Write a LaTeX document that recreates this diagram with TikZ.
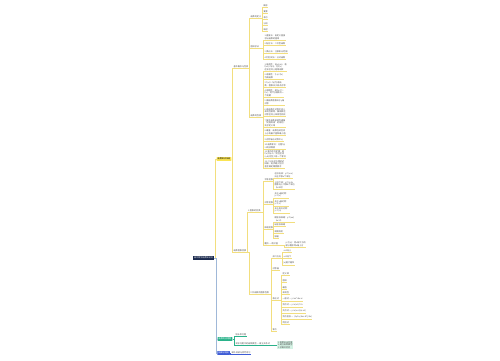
\documentclass[tikz,border=0pt]{standalone}
\usepackage{fontspec}
\newfontfamily\cjk{Noto Sans CJK SC}
\usetikzlibrary{positioning}
\definecolor{rootc}{RGB}{27,42,78}
\definecolor{ylinec}{RGB}{242,222,126}
\definecolor{yboxc}{RGB}{250,228,84}
\definecolor{glinec}{RGB}{42,178,138}
\definecolor{gboxc}{RGB}{212,242,228}
\definecolor{blinec}{RGB}{62,92,214}
\definecolor{trunkc}{RGB}{160,184,216}
\definecolor{txtc}{RGB}{80,80,80}

\begin{document}
\begin{tikzpicture}[x=1pt,y=-1pt,
  mm/.style={font=\cjk\fontsize{2.1}{2.6}\selectfont,inner sep=0.4pt,text=txtc,align=left},
  leaf/.style={mm,anchor=west},
  rootbox/.style={mm,fill=rootc,text=white,inner sep=1pt,rounded corners=0.4pt},
  ybox/.style={mm,fill=yboxc,text=black,inner sep=1pt,rounded corners=0.4pt},
  gbox/.style={mm,fill=glinec,text=white,inner sep=1pt,rounded corners=0.4pt},
  bbox/.style={mm,fill=blinec,text=white,inner sep=1pt,rounded corners=0.4pt},
  note/.style={mm,anchor=west,fill=gboxc,inner sep=0.8pt},
  ylk/.style={draw=ylinec,line width=0.3pt},
  glk/.style={draw=glinec,line width=0.3pt},
  blk/.style={draw=blinec,line width=0.3pt},
  tlk/.style={draw=trunkc,line width=0.6pt}]
  \useasboundingbox (0,0) rectangle (500,360);

  \node[rootbox] (root) at (203.5,258) {高中数学函数知识点};
  \node[ybox]    (fk)   at (224,159)   {函数知识归纳};
  \node[gbox]    (yy)   at (225,339)   {函数的应用题};
  \node[bbox]    (ck)   at (223.5,353) {拓展与链接};

  \node[leaf] (gn) at (233,67)  {基本概念与性质};
  \node[leaf] (tx) at (233,251) {函数图像变换};

  \node[leaf] (dy) at (250,17)  {函数的定义};
  \node[leaf] (zy) at (250,47)  {值域求法};
  \node[leaf] (xz) at (250,116) {函数的性质};

  \node[leaf] (dy1) at (263,6)  {概念};
  \node[leaf] (dy2) at (263,12) {要素};
  \node[leaf] (dy3) at (263,18) {表示};
  \node[leaf] (dy4) at (263,24) {分段};
  \node[leaf] (dy5) at (263,30) {映射};

  \node[leaf] (zy1) at (264,37) {1.直接法：由定义直接\\求出函数的值域};
  \node[leaf] (zy2) at (264,44) {2.配方法：二次型函数};
  \node[leaf] (zy3) at (264,52) {3.换元法：注意新元范围};
  \node[leaf] (zy4) at (264,58) {4.判别式法：分式函数};

  \node[leaf] (xz1)  at (264,67)  {1.单调性：设x1<x2，若\\f(x1)<f(x2)，则f(x)\\在该区间上是增函数};
  \node[leaf] (xz2)  at (264,76)  {2.奇偶性：f(-x)=f(x)\\为偶函数};
  \node[leaf] (xz3)  at (264,84)  {3.f(-x)=-f(x)为奇函\\数，图像关于原点对称};
  \node[leaf] (xz4)  at (264,93)  {4.周期性：若f(x+T)=\\f(x)，则T为函数的一\\个周期};
  \node[leaf] (xz5)  at (264,102) {5.偶函数图像关于y轴\\对称};
  \node[leaf] (xz6)  at (264,112) {6.奇函数在对称区间上\\单调性相同，偶函数在\\对称区间上单调性相反};
  \node[leaf] (xz7)  at (264,123) {7.复合函数单调性遵循\\“同增异减”的原则，\\先求定义域};
  \node[leaf] (xz8)  at (264,132) {8.最值：函数在闭区间\\上必有最大值和最小值};
  \node[leaf] (xz9)  at (264,140) {9.对称轴与对称中心};
  \node[leaf] (xz10) at (264,146) {10.函数零点：方程f(x)\\=0的实数根};
  \node[leaf] (xz11) at (264,154) {11.零点存在定理：若\\f(a)f(b)<0，则在区间\\(a,b)内至少有一个零点};
  \node[leaf] (xz12) at (264,164) {12.二分法求方程的近\\似解，逐步缩小区间\\直至满足精度要求};

  \node[leaf] (bh) at (247.5,211) {1.图像的变换};
  \node[leaf] (ex) at (249.5,293) {二次函数的图像性质};

  \node[leaf] (py) at (264,180) {平移变换};
  \node[leaf] (dc) at (264,203) {对称变换};
  \node[leaf] (sf) at (264,228) {伸缩变换};
  \node[leaf] (fz) at (264,244) {翻折 — 绝对值};

  \node[leaf] (py1) at (274,175) {左加右减：y=f(x+a)\\向左平移a个单位};
  \node[leaf] (py2) at (274,185) {上加下减：y=f(x)+b\\图像向上平移b个单位\\（b>0时）};
  \node[leaf] (dc1) at (274,195) {关于x轴对称：\\y=-f(x)};
  \node[leaf] (dc2) at (274,203) {关于y轴对称：\\y=f(-x)};
  \node[leaf] (dc3) at (274,210) {关于原点对称：\\y=-f(-x)};
  \node[leaf] (sf1) at (274,219) {横坐标伸缩：y=f(ωx)\\（ω>0）};
  \node[leaf] (sf2) at (274,225) {纵坐标伸缩};
  \node[leaf] (sf3) at (274,232) {周期改变};
  \node[leaf] (sf4) at (274,237) {振幅};
  \node[leaf] (fz1) at (285,244) {y=|f(x)|：将x轴下方的\\部分翻折到x轴上方};

  \node[leaf] (kk)  at (272,257) {开口方向};
  \node[leaf] (dz)  at (272,269) {对称轴};
  \node[leaf] (bd)  at (272,299) {表达式};
  \node[leaf] (ld)  at (272,330) {零点};

  \node[leaf] (kk1) at (283,251) {a>0向上};
  \node[leaf] (kk2) at (283,257) {a<0向下};
  \node[leaf] (kk3) at (283,263) {|a|越大越窄};

  \node[leaf] (bd1) at (282,274) {定义域};
  \node[leaf] (bd2) at (282,281) {值域};
  \node[leaf] (bd3) at (282,288) {最值};
  \node[leaf] (bd4) at (282,293) {单调性};
  \node[leaf] (bd5) at (282,299) {一般式 — y=ax²+bx+c};
  \node[leaf] (bd6) at (282,305) {顶点式 — y=a(x-h)²+k};
  \node[leaf] (bd7) at (282,311) {交点式 — y=a(x-x1)(x-x2)};
  \node[leaf] (bd8) at (282,317) {顶点坐标 — (-b/2a,(4ac-b²)/4a)};
  \node[leaf] (bd9) at (282,323) {判别式};

  \node[leaf] (yy1) at (235,334.5) {增长率问题};
  \node[leaf] (yy2) at (235,344)   {实际问题中的函数模型 — 建立关系式};
  \node[note] (yy3) at (277,345)   {1.审题设出变量\\2.建立函数模型\\3.求解并检验};

  \node[leaf] (ck1) at (231,353) {课外阅读与思考练习};

  \draw[ylk] (root.east) -| ([xshift=-1pt]fk.west) -- (fk.west);
  \draw[tlk] (root.east) -| ([xshift=-1pt]yy.west) -- (yy.west);
  \draw[tlk] (root.east) -| ([xshift=-1pt]ck.west) -- (ck.west);

  \foreach \p/\c in {fk.east/gn, fk.east/tx,
      gn.south east/dy, gn.south east/zy, gn.south east/xz,
      dy.south east/dy1, dy.south east/dy2, dy.south east/dy3, dy.south east/dy4, dy.south east/dy5,
      zy.south east/zy1, zy.south east/zy2, zy.south east/zy3, zy.south east/zy4,
      xz.south east/xz1, xz.south east/xz2, xz.south east/xz3, xz.south east/xz4,
      xz.south east/xz5, xz.south east/xz6, xz.south east/xz7, xz.south east/xz8,
      xz.south east/xz9, xz.south east/xz10, xz.south east/xz11, xz.south east/xz12,
      tx.south east/bh, tx.south east/ex,
      bh.south east/py, bh.south east/dc, bh.south east/sf, bh.south east/fz,
      py.south east/py1, py.south east/py2,
      dc.south east/dc1, dc.south east/dc2, dc.south east/dc3,
      sf.south east/sf1, sf.south east/sf2, sf.south east/sf3, sf.south east/sf4,
      fz.south east/fz1,
      ex.south east/kk, ex.south east/dz, ex.south east/bd, ex.south east/ld,
      kk.south east/kk1, kk.south east/kk2, kk.south east/kk3,
      bd.south east/bd1, bd.south east/bd2, bd.south east/bd3, bd.south east/bd4, bd.south east/bd5,
      bd.south east/bd6, bd.south east/bd7, bd.south east/bd8, bd.south east/bd9}
    \draw[ylk] (\p) -| ([xshift=-0.8pt]\c.south west) -- (\c.south east);

  \foreach \c in {yy1,yy2}
    \draw[glk] (yy.east) -| ([xshift=-0.8pt]\c.south west) -- (\c.south east);
  \draw[glk] (yy2.south east) -| ([xshift=-0.8pt]yy3.west) -- (yy3.west);
  \draw[blk] (ck.east) -| ([xshift=-0.6pt]ck1.south west) -- (ck1.south east);
\end{tikzpicture}
\end{document}
